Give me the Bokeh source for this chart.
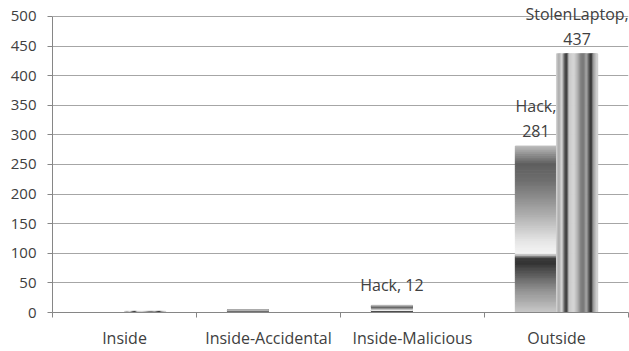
import numpy as np
from bokeh.plotting import figure
from bokeh.models import ColumnDataSource, FixedTicker, LabelSet, Range1d
from bokeh.core.properties import value
from bokeh.embed import file_html
from bokeh.resources import INLINE

# ---- data -------------------------------------------------------------
categories = ["Inside", "Inside-Accidental", "Inside-Malicious", "Outside"]
series_names = ["Hack", "StolenLaptop"]
hack = [0, 4, 12, 281]
stolen_laptop = [2, 0, 0, 437]
y_ticks = [0, 50, 100, 150, 200, 250, 300, 350, 400, 450, 500]
y_max = 500

# points that carry a data label: (category, series, wrap onto two lines)
labelled = [
    ("Inside-Malicious", "Hack", False),
    ("Outside", "Hack", True),
    ("Outside", "StolenLaptop", True),
]

# ---- styling ----------------------------------------------------------
FONT = "Open Sans"
TEXT = "#404040"
GRID = "#a6a6a6"
AXIS = "#868686"
BAR_W = 0.286          # bar width in category units
DODGE = [-0.143, 0.143]
LINE_STEP = 20         # px between wrapped label lines
LABEL_GAP = 9          # px between label block and bar top
HEADROOM = 27          # extra data units above the axis top, room for labels

# grayscale gradient stops (position along bar, gray level)
hack_stops = ([0.0, 0.018, 0.138, 0.217, 0.297, 0.327, 0.357, 0.437, 0.577, 0.696, 0.796, 0.896, 1.0],
              [200, 195, 145, 100, 52, 58, 245, 228, 178, 140, 110, 95, 185])
laptop_stops = ([0.0, 0.07, 0.14, 0.21, 0.26, 0.31, 0.43, 0.52, 0.60, 0.67, 0.74, 0.81, 0.86, 0.90, 1.0],
                [215, 170, 220, 90, 50, 200, 215, 180, 130, 120, 170, 80, 45, 150, 215])


def gray(stops, t):
    g = int(round(np.interp(t, stops[0], stops[1])))
    return "#%02x%02x%02x" % (g, g, g)


values = {"Hack": hack, "StolenLaptop": stolen_laptop}

p = figure(width=629, height=351, output_backend="svg", toolbar_location=None,
           x_range=Range1d(0, len(categories)), y_range=Range1d(0, y_max + HEADROOM),
           min_border_left=52, min_border_right=1, min_border_top=0, min_border_bottom=30)
p.outline_line_color = None
p.background_fill_color = "white"
p.border_fill_color = "white"

# Hack bars: gradient running bottom-to-top, built from horizontal slices
n_h = 90
hx, hb, ht, hc = [], [], [], []
for i, v in enumerate(hack):
    if v <= 0:
        continue
    xc = i + 0.5 + DODGE[0]
    for k in range(n_h):
        hx.append(xc)
        hb.append(v * k / n_h)
        ht.append(v * (k + 1) / n_h)
        hc.append(gray(hack_stops, (k + 0.5) / n_h))
p.vbar(x="x", bottom="b", top="t", width=BAR_W, color="c",
       source=ColumnDataSource(dict(x=hx, b=hb, t=ht, c=hc)))

# StolenLaptop bars: gradient running left-to-right, built from vertical slices
n_l = 42
lx, lt, lc = [], [], []
for i, v in enumerate(stolen_laptop):
    if v <= 0:
        continue
    xc = i + 0.5 + DODGE[1]
    for k in range(n_l):
        t = (k + 0.5) / n_l
        lx.append(xc - BAR_W / 2 + BAR_W * t)
        lt.append(v)
        lc.append(gray(laptop_stops, t))
p.vbar(x="x", bottom=0, top="t", width=BAR_W / n_l * 1.05, color="c",
       source=ColumnDataSource(dict(x=lx, t=lt, c=lc)))

# data labels, one entry per text line so each line is centred on its bar
lab_x, lab_y, lab_t, lab_o = [], [], [], []
for cat, s, wrap in labelled:
    i = categories.index(cat)
    j = series_names.index(s)
    v = values[s][i]
    lines = [f"{s},", f"{v}"] if wrap else [f"{s}, {v}"]
    for r, line in enumerate(lines):
        lab_x.append(i + 0.5 + DODGE[j])
        lab_y.append(v)
        lab_t.append(line)
        lab_o.append(LABEL_GAP + LINE_STEP * (len(lines) - 1 - r))
p.add_layout(LabelSet(x="x", y="y", text="t", y_offset="o",
                      source=ColumnDataSource(dict(x=lab_x, y=lab_y, t=lab_t, o=lab_o)),
                      text_align="center", text_baseline="bottom",
                      text_font=value(FONT), text_font_size=value("16px"), text_color=TEXT))

# axes
p.yaxis.ticker = FixedTicker(ticks=y_ticks)
p.yaxis.bounds = (0, y_max)
p.yaxis.axis_line_color = AXIS
p.yaxis.major_tick_line_color = AXIS
p.yaxis.major_tick_out = 5
p.yaxis.major_tick_in = 0
p.yaxis.minor_tick_line_color = None
p.yaxis.major_label_standoff = 11
p.yaxis.major_label_text_font = FONT
p.yaxis.major_label_text_font_size = "15px"
p.yaxis.major_label_text_color = TEXT

centers = [i + 0.5 for i in range(len(categories))]
p.xaxis.ticker = FixedTicker(ticks=centers, minor_ticks=list(range(len(categories) + 1)))
p.xaxis.major_label_overrides = {c: name for c, name in zip(centers, categories)}
p.xaxis.axis_line_color = AXIS
p.xaxis.major_tick_line_color = None
p.xaxis.major_tick_out = 0
p.xaxis.major_tick_in = 0
p.xaxis.minor_tick_line_color = AXIS
p.xaxis.minor_tick_out = 5
p.xaxis.minor_tick_in = 0
p.xaxis.major_label_standoff = 9
p.xaxis.major_label_text_font = FONT
p.xaxis.major_label_text_font_size = "16px"
p.xaxis.major_label_text_color = TEXT

p.xgrid.grid_line_color = None
p.ygrid.grid_line_color = GRID
p.ygrid.ticker = FixedTicker(ticks=y_ticks)

open("out.html", "w").write(file_html(p, INLINE))
